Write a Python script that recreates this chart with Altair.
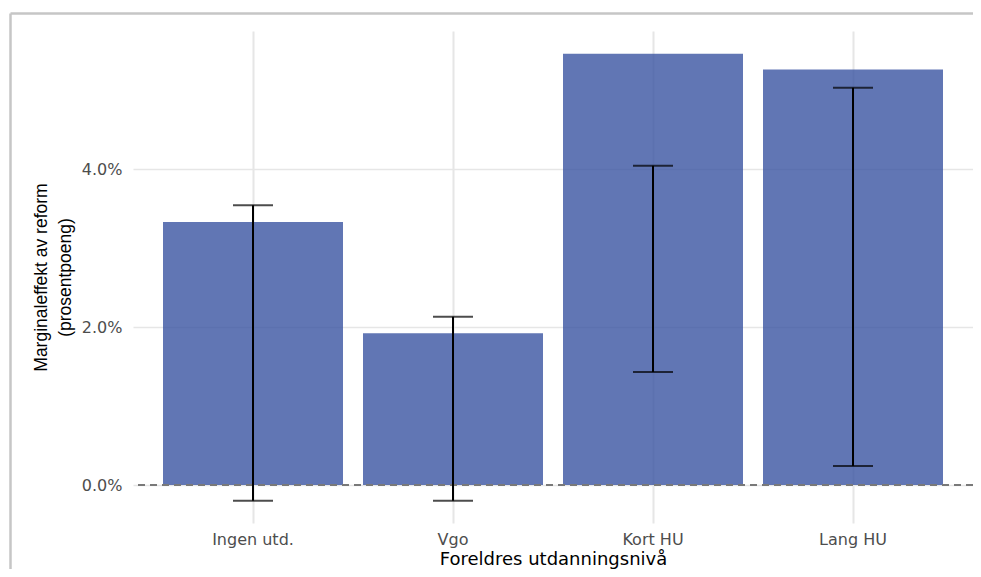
import altair as alt
import pandas as pd

categories = ["Ingen utd.", "Vgo", "Kort HU", "Lang HU"]
effect = [0.0333, 0.0192, 0.0546, 0.0526]
lower = [-0.0020, -0.0020, 0.0143, 0.0024]
upper = [0.0354, 0.0213, 0.0404, 0.0503]
y_ticks = [0.0, 0.02, 0.04]

df = pd.DataFrame({"cat": categories, "effect": effect, "lower": lower, "upper": upper})
frame_df = pd.DataFrame({"k": [0]})

W, H = 840, 492
yscale = alt.Scale(domain=[-0.00481, 0.05747], nice=False, zero=False)
xscale = alt.Scale(paddingInner=0.1, paddingOuter=0.15)

base = alt.Chart(df)

bars = base.mark_bar(color="#3A54A1", opacity=0.8).encode(
    x=alt.X("cat:N", sort=categories, scale=xscale,
            axis=alt.Axis(title="Foreldres utdanningsnivå", labelAngle=0, domain=False, ticks=False,
                          labelPadding=8, labelFont="DejaVu Sans", labelFontSize=16, labelColor="#4d4d4d",
                          titleFont="DejaVu Sans", titleFontSize=18, titleFontWeight="normal",
                          titleColor="black", titlePadding=3,
                          grid=True, gridColor="#e6e6e6", gridWidth=2, bandPosition=0.5)),
    y=alt.Y("effect:Q", scale=yscale,
            axis=alt.Axis(title=["Marginaleffekt av reform", "(prosentpoeng)"], values=y_ticks, format=".1%",
                          domain=False, ticks=False, labelPadding=11, labelFont="DejaVu Sans",
                          labelFontSize=16, labelColor="#4d4d4d", titleFont="Liberation Sans",
                          titleFontSize=17.5, titleFontWeight="normal", titleColor="black", titlePadding=7,
                          titleLineHeight=24,
                          grid=True, gridColor="#e6e6e6", gridWidth=1.5)),
)

zero = base.mark_rule(color="#7a7a7a", strokeWidth=1.6, strokeDash=[7, 5]).encode(y=alt.datum(0))

err = base.mark_rule(color="black", strokeWidth=2).encode(
    x=alt.X("cat:N", sort=categories), y="lower:Q", y2="upper:Q")
cap_hi = base.mark_tick(color="black", size=40, thickness=2).encode(
    x=alt.X("cat:N", sort=categories), y="upper:Q")
cap_lo = base.mark_tick(color="black", size=40, thickness=2).encode(
    x=alt.X("cat:N", sort=categories), y="lower:Q")

frame_top = alt.Chart(frame_df).mark_rule(color="#c6c6c6", strokeWidth=2.5).encode(
    x=alt.value(-122.5), x2=alt.value(W + 20), y=alt.value(-17.5))
frame_left = alt.Chart(frame_df).mark_rule(color="#c6c6c6", strokeWidth=2.5).encode(
    x=alt.value(-122.5), y=alt.value(-17.5), y2=alt.value(H + 80))

chart = alt.layer(bars, zero, err, cap_hi, cap_lo, frame_top, frame_left).properties(
    width=W, height=H,
    autosize=alt.AutoSizeParams(type="none"),
    padding={"left": 125, "top": 23, "right": 0, "bottom": 46},
).configure(background="white", view=alt.ViewConfig(stroke=None))

chart.save("out.html", embed_options={"renderer": "svg", "actions": False})
